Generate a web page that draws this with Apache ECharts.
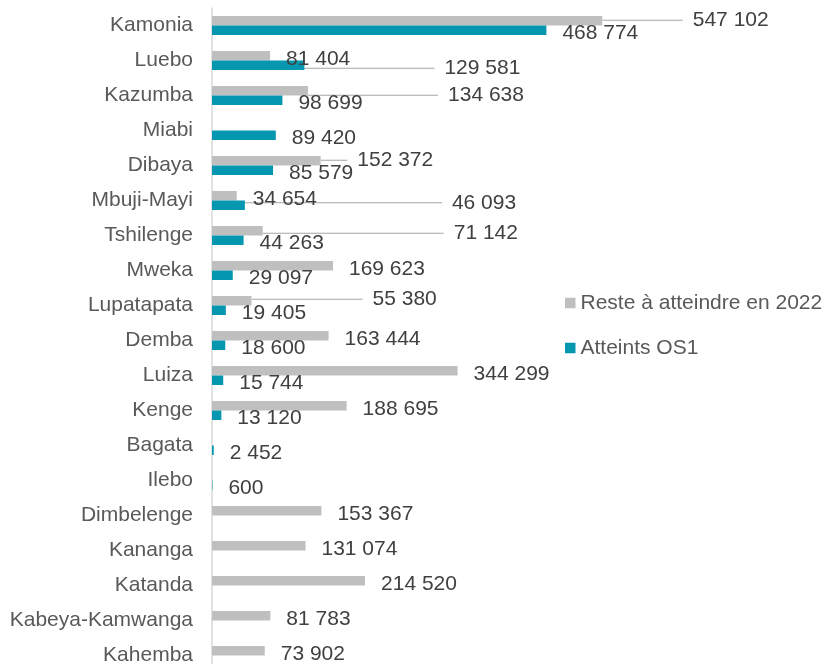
<!DOCTYPE html>
<html>
<head>
<meta charset="utf-8">
<script src="https://cdn.jsdelivr.net/npm/echarts@6/dist/echarts.min.js"></script>
<style>
  html,body{margin:0;padding:0;background:#fff}
  #chart{width:824px;height:664px}
</style>
</head>
<body>
<div id="chart"></div>
<script>
/* ── données ─────────────────────────────────────────────── */
const categories = ['Kamonia', 'Luebo', 'Kazumba', 'Miabi', 'Dibaya', 'Mbuji-Mayi', 'Tshilenge',
  'Mweka', 'Lupatapata', 'Demba', 'Luiza', 'Kenge', 'Bagata', 'Ilebo', 'Dimbelenge',
  'Kananga', 'Katanda', 'Kabeya-Kamwanga', 'Kahemba'];
const reste = [547102, 81404, 134638, null, 152372, 34654, 71142, 169623, 55380, 163444,
  344299, 188695, null, null, 153367, 131074, 214520, 81783, 73902];
const atteints = [468774, 129581, 98699, 89420, 85579, 46093, 44263, 29097, 19405, 18600,
  15744, 13120, 2452, 600, null, null, null, null, null];

// étiquettes déplacées à la main (dx, dy en px) -> avec ligne de rappel
const resteMoves = { 0: [64.5, -3.5], 2: [114, 1.5], 4: [10.6, -3.5], 6: [165, -0.5], 8: [95, -4.5] };
const atteintsMoves = { 1: [114, 0], 5: [181, -5.5] };

/* ── style ───────────────────────────────────────────────── */
const GREY = '#BFBFBF', TEAL = '#0596B0';
const FONT = "'Liberation Sans', Arial, sans-serif";
const LABEL_DY = 3;   // labelLayout remplace label.offset : décalage vertical de base ici
const fmt = v => String(v).replace(/\B(?=(\d{3})+(?!\d))/g, ' ');

// le padding (avec fond transparent) laisse un blanc entre la ligne de rappel et le texte
const items = (vals, mv) => vals.map((v, i) => mv[i]
  ? { value: v, label: { padding: [0, 0, 0, 10], backgroundColor: 'transparent' }, labelLine: { show: true } }
  : v);
const moves = [resteMoves, atteintsMoves];

const barLabel = {
  show: true, position: 'right', distance: 16,
  color: '#404040', fontSize: 21, fontFamily: FONT,
  formatter: p => fmt(p.value)
};
const guide = { show: false, lineStyle: { color: '#A6A6A6', width: 1 } };

const chart = echarts.init(document.getElementById('chart'), null, { renderer: 'canvas' });
chart.setOption({
  animation: false,
  textStyle: { fontFamily: FONT },
  grid: { left: 212, top: 8, width: 428, height: 665, containLabel: false, outerBoundsMode: 'none' },
  xAxis: { type: 'value', min: 0, max: 600000, show: false },
  yAxis: {
    type: 'category', data: categories, inverse: true,
    axisLine: { lineStyle: { color: '#D9D9D9', width: 1.5 } },
    axisTick: { show: false },
    axisLabel: { color: '#595959', fontSize: 21, fontFamily: FONT, margin: 19, padding: [4, 0, 0, 0] }
  },
  legend: {
    orient: 'vertical', left: 560, top: 285.5, itemWidth: 10.5, itemHeight: 10.5, itemGap: 20,
    icon: 'rect', selectedMode: false,
    textStyle: { color: '#595959', fontSize: 21, fontFamily: FONT, lineHeight: 21, padding: [4, 0, 0, 0] },
    data: ['Reste à atteindre en 2022', 'Atteints OS1']
  },
  series: [
    {
      name: 'Reste à atteindre en 2022', type: 'bar', data: items(reste, resteMoves),
      barWidth: 9.5, barGap: '0%', itemStyle: { color: GREY },
      label: barLabel, labelLine: guide
    },
    {
      name: 'Atteints OS1', type: 'bar', data: items(atteints, atteintsMoves),
      barWidth: 9.5, barGap: '0%', itemStyle: { color: TEAL },
      label: barLabel, labelLine: guide
    }
  ],
  labelLayout: p => {
    const m = moves[p.seriesIndex][p.dataIndex] || [0, 0];
    return { dx: m[0], dy: LABEL_DY + m[1] };
  }
});
</script>
</body>
</html>
